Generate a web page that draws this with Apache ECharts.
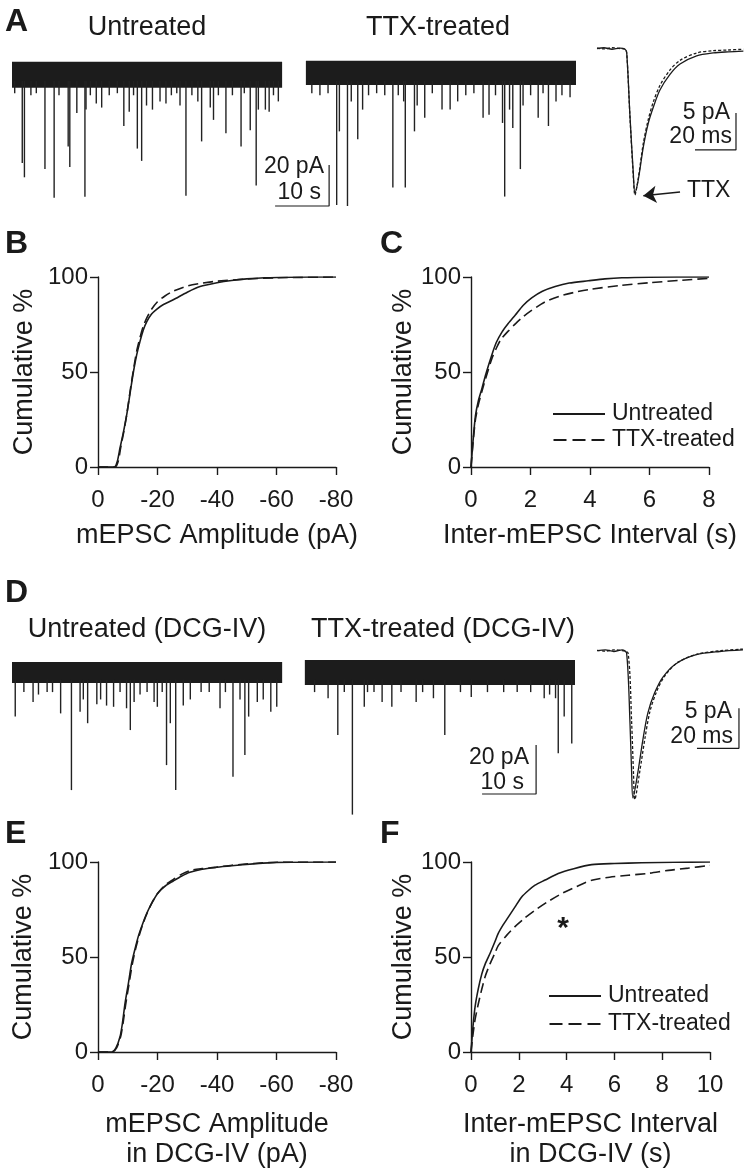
<!DOCTYPE html>
<html><head><meta charset="utf-8">
<script src="https://cdn.jsdelivr.net/npm/echarts@6/dist/echarts.min.js"></script>
<style>html,body{margin:0;padding:0;background:#fff}#c{width:750px;height:1176px}</style>
</head><body><div id="c"></div>
<script>
const FONT = '"Liberation Sans", Arial, Helvetica, sans-serif';
const INK = '#1a1a1a';
const TRACE = '#222222';

// ---------- Panel A: raw traces (time s, current pA) ----------
const A_TTX_START = 54.4;
const A_untreatedBand = [0, 50, -6.3, 6.3];
const A_ttxBand = [0, 50, -5, 6.8];
const A_untreatedEvents = [[0.5,-9],[1.9,-43],[2.3,-50],[3.5,-10],[4.5,-9],[6.1,-46],[7.8,-60],[8.7,-10],[10.4,-35],[10.7,-45],[12.0,-18.6],[13.5,-59.5],[13.7,-17],[14.5,-10],[15.6,-14],[16.6,-16],[18.0,-10],[19.5,-9],[20.7,-25],[21.7,-18],[22.5,-10],[23.2,-36],[24.0,-42],[24.9,-15],[26.0,-17],[27.4,-13],[28.5,-14],[29.5,-10],[30.5,-9],[31.1,-15],[32.2,-59],[33.3,-10],[34.4,-13],[35.1,-32.5],[36.7,-16],[37.3,-22],[38.2,-10],[39.6,-28.5],[40.8,-10],[42.4,-35],[43.0,-9],[44.1,-27],[45.2,-54],[45.6,-17],[46.9,-17],[47.6,-18],[48.4,-10],[49.3,-13]];
const A_ttxEvents = [[1.1,-9],[2.6,-10],[4.1,-9],[5.7,-63.5],[6.2,-27.6],[7.7,-64],[8.4,-13],[9.6,-31.4],[10.5,-17],[11.6,-10],[13.1,-9],[14.6,-10],[16.1,-55],[17.1,-10],[18.1,-13],[18.4,-55],[20.1,-27.6],[20.6,-15],[22.0,-21],[23.4,-9],[25.2,-17],[26.7,-17],[28.1,-13],[29.6,-10],[31.1,-9],[32.8,-21],[33.9,-19.5],[35.1,-10],[36.4,-23.5],[36.8,-59.4],[37.7,-17],[38.3,-26],[39.7,-46],[40.2,-15],[41.6,-10],[43.0,-21],[43.9,-9],[44.9,-25],[46.3,-13],[47.4,-10],[48.9,-11]];

// ---------- Panel A: averaged mEPSCs (ms, pA) ----------
const A_avgUntreated = [[0,0],[3.4,0.1],[7.3,-0.1],[11.2,0.05],[13.7,-0.1],[14.5,-0.6],[16.1,-9.2],[17.7,-16.8],[18.5,-19.5],[20.1,-17.8],[22.6,-13.3],[25.0,-10.1],[27.5,-7.9],[30.7,-5.6],[35.6,-3.5],[40.5,-2.1],[48.6,-1.0],[56.7,-0.6],[64,-0.45],[71.4,-0.35]];
const A_avgTTX = [[0,0.05],[3.4,-0.05],[7.3,0.1],[11.2,0],[13.7,-0.1],[14.5,-0.6],[16.1,-9.4],[17.7,-17.2],[18.5,-19.8],[20.1,-17.6],[22.6,-12.8],[25.0,-9.6],[27.5,-7.2],[30.7,-5.0],[35.6,-2.9],[40.5,-1.6],[48.6,-0.6],[56.7,-0.3],[64,-0.2],[71.4,-0.1]];

// ---------- Panel B / C ----------
const B_untreated = [[0,0],[-5.5,0],[-6.5,3],[-7.4,10],[-8.5,18],[-9.6,27],[-10.8,39],[-11.9,50],[-13,59],[-14.1,66],[-15.2,72],[-16.4,76.5],[-18,80.5],[-19.7,83],[-22,85.5],[-25.3,88],[-30,92],[-34.3,95],[-40,97],[-44.9,98.2],[-50,99],[-56,99.6],[-65,99.9],[-80,100]];
const B_ttx = [[0,0],[-5.8,0],[-6.8,3],[-7.6,10],[-8.6,18],[-9.7,28],[-10.8,40],[-11.9,51],[-13,61],[-14.1,68],[-15.2,74],[-16.4,78.5],[-18,83],[-20,87],[-22.5,90],[-25,92.3],[-30,95.3],[-35,96.8],[-40,97.8],[-50,98.9],[-60,99.6],[-80,100]];
const C_untreated = [[0,0],[0.07,14],[0.15,27],[0.25,35],[0.37,41.5],[0.5,49],[0.7,59],[0.85,65.5],[1.04,71],[1.25,75.5],[1.49,80],[1.75,85],[2.04,89],[2.4,92.5],[2.83,95],[3.3,96.8],[3.94,98],[4.5,99],[5.07,99.6],[6,99.9],[8,100]];
const C_ttx = [[0,0],[0.07,13],[0.15,25],[0.25,33],[0.37,40],[0.5,47],[0.7,57],[0.85,62.5],[1.0,67],[1.25,71.5],[1.5,75.5],[1.75,79],[2.0,82],[2.5,87],[3.0,90],[3.5,92],[4.0,93.5],[5,95.5],[6,97],[7,98.2],[8,99.3]];

// ---------- Panel D: raw traces ----------
const D_TTX_START = 54.2;
const D_untreatedBand = [0, 50, -4.3, 4.3];
const D_ttxBand = [0, 50, -5.1, 5.1];
const D_untreatedEvents = [[0.6,-18],[2.2,-8],[3.9,-12],[4.9,-9],[6.5,-8],[7.5,-8],[9.0,-16.7],[11.0,-48],[12.6,-16],[13.2,-11],[14.0,-20.7],[15.7,-13],[16.4,-11],[17.5,-13.5],[18.8,-14],[20.0,-8],[21.2,-14.6],[21.9,-23.5],[22.6,-12],[23.7,-9],[25.0,-8],[26.3,-12],[26.9,-14],[27.8,-8],[28.6,-37.8],[29.3,-20.7],[30.3,-48],[31.7,-13.5],[33.0,-11],[35.0,-8],[36.5,-8],[38.5,-14.6],[39.5,-8],[40.9,-42.5],[42.2,-11],[43.1,-33.7],[43.8,-18],[45.4,-12],[46.5,-11],[47.9,-16],[49.0,-14]];
const D_ttxEvents = [[1.8,-8],[4.3,-10.5],[6.1,-25.5],[7.3,-8],[8.8,-58],[11.0,-14],[11.6,-8],[12.8,-8],[14.3,-12],[16.1,-14],[17.8,-8],[20.6,-12],[21.8,-8],[23.8,-10.5],[25.9,-25.5],[28.8,-8],[30.8,-10],[33.8,-8],[36.8,-8],[39.3,-8],[41.8,-8],[44.3,-10.5],[45.3,-9],[46.4,-10.5],[46.9,-33],[48.0,-18],[49.4,-29]];

// ---------- Panel D: averaged mEPSCs ----------
const D_avgUntreated = [[0,0],[4,0.1],[8,-0.1],[12,0.1],[14.1,-0.3],[15.7,-9.0],[16.5,-15.3],[17.1,-18.4],[19.4,-15.3],[21.8,-11.2],[24.2,-7.8],[27.4,-5.3],[31.4,-3.3],[37.8,-1.6],[47.3,-0.5],[58.4,-0.1],[69.5,0.1]];
const D_avgTTX = [[0,0.05],[4,-0.05],[8,0.1],[12,0],[14.8,-0.3],[16.5,-9.0],[17.4,-15.5],[18.0,-18.6],[20.3,-15.2],[22.8,-11.0],[25.2,-7.6],[28.4,-5.1],[32.4,-3.1],[38.8,-1.4],[48.3,-0.4],[59,0],[69.5,0.2]];

// ---------- Panel E / F ----------
const E_untreated = [[0,0],[-4.6,0],[-6,2],[-7.4,8],[-8.2,15],[-9.1,25.7],[-10.2,36],[-11.3,46.7],[-12.4,54],[-13.5,60.6],[-14.9,67],[-16.4,73],[-18.3,79],[-20.3,84],[-22.7,87.5],[-25.3,90],[-28,92.5],[-30.9,94.6],[-35,96.2],[-39.9,97.2],[-45,98],[-52.2,99],[-60,99.8],[-80,100]];
const E_ttx = [[0,0],[-4.8,0],[-6.2,2],[-7.6,8],[-8.4,15],[-9.3,25],[-10.4,35.5],[-11.5,46],[-12.6,54],[-13.7,60.5],[-15,67],[-16.5,73],[-18.3,79],[-20.3,84],[-22.7,88],[-25.3,90.8],[-28,93.5],[-30.9,95.5],[-35,96.5],[-39.9,97.3],[-45,98.3],[-52.2,99.2],[-60,99.9],[-80,100]];
const F_untreated = [[0,0],[0.08,13],[0.17,23.8],[0.3,33],[0.45,41],[0.6,46.5],[0.8,52],[1.0,58],[1.14,62.4],[1.35,67],[1.56,71],[1.85,76.5],[2.12,81.6],[2.4,85],[2.68,87.8],[3.1,90.5],[3.65,94],[4.3,96.5],[5.05,98.6],[6,99.2],[7.14,99.6],[8.5,99.9],[10,100]];
const F_ttx = [[0,0],[0.08,9],[0.17,17],[0.3,25],[0.45,33],[0.6,40],[0.8,46.5],[1.0,52],[1.14,56],[1.5,61.5],[1.84,66],[2.25,70.5],[2.68,74.6],[3.2,79],[3.8,83.4],[4.4,87],[5.05,90.4],[5.8,92],[6.58,93],[7.4,94],[8.26,95.6],[9.1,96.8],[10,98.2]];

const SERIES_NAMES = ['Untreated', 'TTX-treated'];
const Y_TICKS = { min: 0, max: 100, interval: 50 };

// ---------- helpers ----------
const shift = (rows, dt) => rows.map(r => [r[0] + dt, r[1]]);
const bandRow = (b, dt) => [b[0] + dt, b[1] + dt, b[2], b[3]];

function bandItem(params, api) {
  const p0 = api.coord([api.value(0), api.value(3)]);
  const p1 = api.coord([api.value(1), api.value(2)]);
  return { type: 'rect', shape: { x: p0[0], y: p0[1], width: p1[0] - p0[0], height: p1[1] - p0[1] },
           style: { fill: '#1c1c1c' } };
}
function eventItem(params, api) {
  const p0 = api.coord([api.value(0), -3]);
  const p1 = api.coord([api.value(0), api.value(1)]);
  return { type: 'line', shape: { x1: p0[0], y1: p0[1], x2: p1[0], y2: p1[1] },
           style: { stroke: TRACE, lineWidth: 1.4 } };
}
function bandSeries(i, rows) {
  return { type: 'custom', xAxisIndex: i, yAxisIndex: i, renderItem: bandItem, clip: false,
           encode: { x: [0, 1], y: [2, 3] }, data: rows, silent: true };
}
function eventSeries(i, rows) {
  return { type: 'custom', xAxisIndex: i, yAxisIndex: i, renderItem: eventItem, clip: false,
           encode: { x: 0, y: 1 }, data: rows, silent: true };
}
function scaleBar(i, t, v, dt, dv) {
  return { type: 'line', xAxisIndex: i, yAxisIndex: i, symbol: 'none', clip: false, silent: true,
           itemStyle: { color: INK }, lineStyle: { color: INK, width: 1.2 }, data: [[t - dt, v], [t, v], [t, v + dv]] };
}
function avgLine(i, name, rows, dashed) {
  return { type: 'line', name: name, xAxisIndex: i, yAxisIndex: i, symbol: 'none', clip: false, silent: true,
           smooth: 0.3, itemStyle: { color: INK },
           lineStyle: { color: INK, width: 1.3, type: dashed ? [3, 2] : 'solid' }, data: rows };
}
function cumLine(i, name, rows, dashed) {
  return { type: 'line', name: name, xAxisIndex: i, yAxisIndex: i, symbol: 'none', showSymbol: false, silent: true,
           smooth: 0.25, itemStyle: { color: INK },
           lineStyle: { color: INK, width: 1.6, type: dashed ? [10, 5] : 'solid' }, data: rows };
}
function hiddenAxis(i, min, max) { return { type: 'value', gridIndex: i, show: false, min: min, max: max }; }

const axisLineStyle = { color: INK, width: 1.4 };
function cumXAxis(i, min, max, interval, inverse, name, gap) {
  return { type: 'value', gridIndex: i, min: min, max: max, interval: interval, inverse: inverse,
    axisLine: { show: true, onZero: false, lineStyle: axisLineStyle },
    axisTick: { show: true, length: 8, lineStyle: axisLineStyle },
    axisLabel: { color: INK, fontSize: 24, fontFamily: FONT, margin: 21 },
    splitLine: { show: false },
    name: name, nameLocation: 'middle', nameGap: gap,
    nameTextStyle: { color: INK, fontSize: 27, fontFamily: FONT, lineHeight: 30 } };
}
function cumYAxis(i, gap) {
  return { type: 'value', gridIndex: i, min: Y_TICKS.min, max: Y_TICKS.max, interval: Y_TICKS.interval,
    axisLine: { show: true, onZero: false, lineStyle: axisLineStyle },
    axisTick: { show: true, length: 8, lineStyle: axisLineStyle },
    axisLabel: { color: INK, fontSize: 24, fontFamily: FONT, margin: 10 },
    splitLine: { show: false },
    name: 'Cumulative %', nameLocation: 'middle', nameGap: gap,
    nameTextStyle: { color: INK, fontSize: 27, fontFamily: FONT } };
}

// legend icons: a solid stroke and a dashed stroke
const LEGEND_ICONS = ['path://M0 0H52V2H0Z', 'path://M0 0H13V2H0ZM19 0H32V2H19ZM38 0H51V2H38Z'];
function legendAt(left, top, gap) {
  return { data: SERIES_NAMES.map((n, k) => ({ name: n, icon: LEGEND_ICONS[k] })),
    left: left, top: top, orient: 'vertical', itemWidth: 52, itemHeight: 2, itemGap: gap,
    selectedMode: false, itemStyle: { color: INK, borderWidth: 0 },
    textStyle: { color: INK, fontSize: 23, fontFamily: FONT, lineHeight: 26, padding: [0, 0, 0, 2] } };
}

function txt(x, y, s, size, align, bold) {
  return { type: 'text', x: x, y: y, silent: true,
    style: { text: s, fill: INK, font: (bold ? 'bold ' : '') + size + 'px ' + FONT,
             align: align, textAlign: align, verticalAlign: 'middle', textVerticalAlign: 'middle' } };
}

const chart = echarts.init(document.getElementById('c'), null, { renderer: 'canvas' });
const option = {
  animation: false,
  backgroundColor: '#ffffff',
  color: [INK],
  grid: [
    { left: 12, top: 44, width: 564, height: 162 },         // 0 A traces
    { left: 597, top: 33.7, width: 147.6, height: 170.2 },  // 1 A averages
    { left: 98, top: 277, width: 238, height: 190 },        // 2 B
    { left: 471, top: 277, width: 238, height: 190 },       // 3 C
    { left: 12, top: 648, width: 563, height: 171.5 },      // 4 D traces
    { left: 597, top: 634.7, width: 147, height: 176 },     // 5 D averages
    { left: 98, top: 862, width: 238, height: 190 },        // 6 E
    { left: 471, top: 862, width: 239, height: 190 }        // 7 F
  ],
  xAxis: [
    hiddenAxis(0, 0, 104.4),
    hiddenAxis(1, 0, 72),
    cumXAxis(2, -80, 0, 20, true, 'mEPSC Amplitude (pA)', 54),
    cumXAxis(3, 0, 8, 2, false, 'Inter-mEPSC Interval (s)', 54),
    hiddenAxis(4, 0, 104.2),
    hiddenAxis(5, 0, 70),
    cumXAxis(6, -80, 0, 20, true, 'mEPSC Amplitude\nin DCG-IV (pA)', 58),
    cumXAxis(7, 0, 10, 2, false, 'Inter-mEPSC Interval\nin DCG-IV (s)', 58)
  ],
  yAxis: [
    hiddenAxis(0, -64, 15),
    hiddenAxis(1, -21, 2),
    cumYAxis(2, 60),
    cumYAxis(3, 53),
    hiddenAxis(4, -60, 10),
    hiddenAxis(5, -20, 2),
    cumYAxis(6, 61),
    cumYAxis(7, 54)
  ],
  legend: [legendAt(548, 396, 0), legendAt(544, 978, 2)],
  series: [
    // A
    bandSeries(0, [bandRow(A_untreatedBand, 0), bandRow(A_ttxBand, A_TTX_START)]),
    eventSeries(0, A_untreatedEvents),
    eventSeries(0, shift(A_ttxEvents, A_TTX_START)),
    scaleBar(0, 58.7, -64, 10, 20),
    avgLine(1, 'avgU_A', A_avgUntreated, false),
    Object.assign(avgLine(1, 'avgT_A', A_avgTTX, true), {
      markLine: { silent: true, symbol: ['none', 'arrow'], symbolSize: 13, label: { show: false },
        lineStyle: { color: INK, width: 1.6, type: 'solid' },
        data: [[{ coord: [40.5, -19.4] }, { coord: [22.6, -19.9] }]] } }),
    scaleBar(1, 67.8, -13.7, 20, 5),
    // B, C
    cumLine(2, SERIES_NAMES[0], B_untreated, false),
    cumLine(2, SERIES_NAMES[1], B_ttx, true),
    cumLine(3, SERIES_NAMES[0], C_untreated, false),
    cumLine(3, SERIES_NAMES[1], C_ttx, true),
    // D
    bandSeries(4, [bandRow(D_untreatedBand, 0), bandRow(D_ttxBand, D_TTX_START)]),
    eventSeries(4, D_untreatedEvents),
    eventSeries(4, shift(D_ttxEvents, D_TTX_START)),
    scaleBar(4, 97.0, -49.6, 10, 20),
    avgLine(5, 'avgU_D', D_avgUntreated, false),
    avgLine(5, 'avgT_D', D_avgTTX, true),
    scaleBar(5, 67.6, -12.2, 20, 5),
    // E, F
    cumLine(6, SERIES_NAMES[0], E_untreated, false),
    cumLine(6, SERIES_NAMES[1], E_ttx, true),
    cumLine(7, SERIES_NAMES[0], F_untreated, false),
    cumLine(7, SERIES_NAMES[1], F_ttx, true)
  ],
  graphic: [
    txt(5, 22, 'A', 32, 'left', true),
    txt(147, 28, 'Untreated', 27, 'center'),
    txt(438, 28, 'TTX-treated', 27, 'center'),
    txt(324, 167, '20 pA', 23, 'right'),
    txt(321, 193, '10 s', 23, 'right'),
    txt(730, 113, '5 pA', 23, 'right'),
    txt(732, 137, '20 ms', 23, 'right'),
    txt(687, 191, 'TTX', 23, 'left'),
    txt(5, 244, 'B', 32, 'left', true),
    txt(380, 244, 'C', 32, 'left', true),
    txt(5, 593, 'D', 32, 'left', true),
    txt(147, 630, 'Untreated (DCG-IV)', 27, 'center'),
    txt(443, 630, 'TTX-treated (DCG-IV)', 27, 'center'),
    txt(529, 758, '20 pA', 23, 'right'),
    txt(524, 783, '10 s', 23, 'right'),
    txt(732, 712, '5 pA', 23, 'right'),
    txt(733, 737, '20 ms', 23, 'right'),
    txt(5, 834, 'E', 32, 'left', true),
    txt(380, 834, 'F', 32, 'left', true),
    txt(563, 929, '*', 30, 'center', true)
  ]
};
chart.setOption(option);
</script></body></html>
